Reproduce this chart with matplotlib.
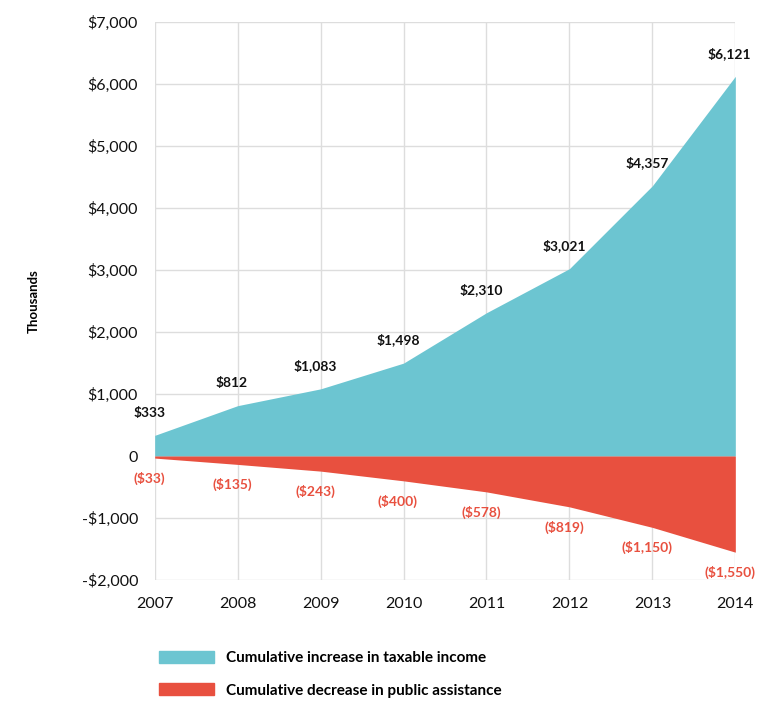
import matplotlib.pyplot as plt
import matplotlib.patches as mpatches

plt.rcParams['font.family'] = ['Lato', 'DejaVu Sans']

years = [2007, 2008, 2009, 2010, 2011, 2012, 2013, 2014]
income = [333, 812, 1083, 1498, 2310, 3021, 4357, 6121]
assistance = [-33, -135, -243, -400, -578, -819, -1150, -1550]
y_ticks = [-2000, -1000, 0, 1000, 2000, 3000, 4000, 5000, 6000, 7000]
y_tick_labels = ['-$2,000', '-$1,000', '0', '$1,000', '$2,000', '$3,000',
                 '$4,000', '$5,000', '$6,000', '$7,000']

teal = '#6CC5D1'
red = '#E8503F'

fig = plt.figure(figsize=(7.62, 7.04), dpi=100)
ax = fig.add_axes([0.203, 0.176, 0.762, 0.793])

ax.fill_between(years, 0, income, color=teal, linewidth=0, zorder=2)
ax.fill_between(years, 0, assistance, color=red, linewidth=0, zorder=2)

for x, v in zip(years, income):
    ax.annotate(f'${v:,}', (x, v), xytext=(-4, 12), textcoords='offset points',
                ha='center', va='bottom', fontsize=10, fontweight='bold',
                color='#111111', zorder=3)
for x, v in zip(years, assistance):
    ax.annotate(f'(${-v:,})', (x, v), xytext=(-4, -10), textcoords='offset points',
                ha='center', va='top', fontsize=10, fontweight='bold',
                color=red, zorder=3)

ax.set_xlim(2007, 2014)
ax.set_ylim(-2000, 7000)
ax.set_xticks(years)
ax.set_xticklabels([str(y) for y in years], fontsize=11.5)
ax.set_yticks(y_ticks)
ax.set_yticklabels(y_tick_labels, fontsize=11.5)
ax.tick_params(length=0, pad=12, labelcolor='#111111')
ax.grid(True, color='#dddddd', linewidth=1, zorder=0)
ax.set_axisbelow(True)
for s in ax.spines.values():
    s.set_visible(False)
ax.set_ylabel('Thousands', fontsize=9.5, fontweight='bold', labelpad=30)

handles = [mpatches.Patch(color=teal, label='Cumulative increase in taxable income'),
           mpatches.Patch(color=red, label='Cumulative decrease in public assistance')]
fig.legend(handles=handles, loc='upper left', bbox_to_anchor=(0.19, 0.095),
           frameon=False, handlelength=3.6, handleheight=0.8,
           labelspacing=1.2, handletextpad=0.8,
           prop={'weight': 'bold', 'size': 11})

fig.savefig('out.png', dpi=100)
